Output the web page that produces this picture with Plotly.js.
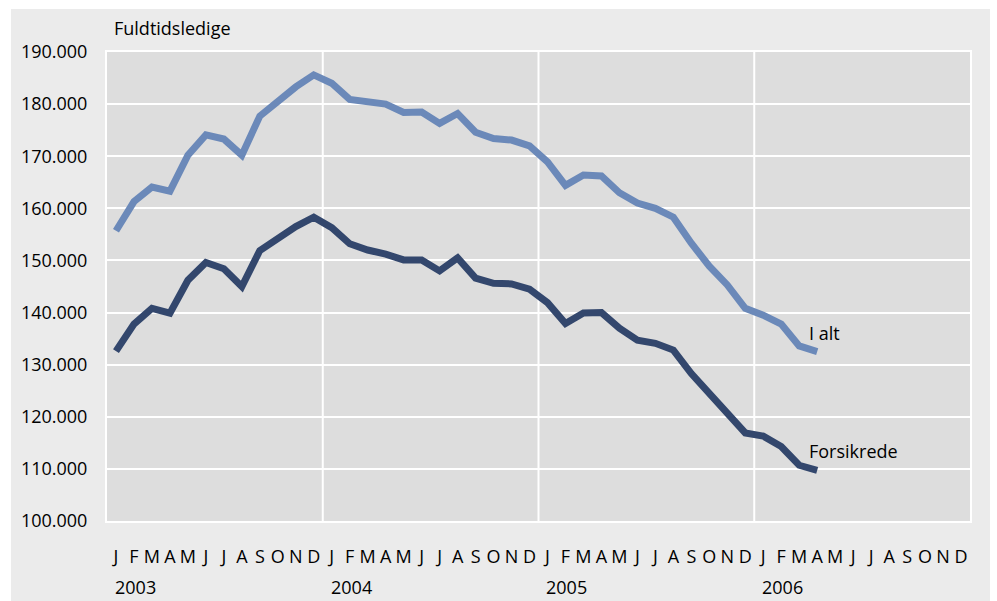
<!DOCTYPE html>
<html>
<head>
<meta charset="utf-8">
<script src="https://cdn.plot.ly/plotly-3.0.1.min.js"></script>
<style>
html,body{margin:0;padding:0;background:#ffffff;}
#chart{position:absolute;left:11px;top:9px;width:979px;height:592px;}
</style>
</head>
<body>
<div id="chart"></div>
<script>
// Month tick labels (Jan 2003 - Dec 2006)
const monthLetters = ["J","F","M","A","M","J","J","A","S","O","N","D"];
const years = ["2003","2004","2005","2006"];

// I alt (total full-time unemployed), Jan 2003 - Apr 2006
const iAlt = [155700,161300,164100,163300,170200,174100,173300,170200,177700,180500,183300,185600,
              184000,180900,180400,180000,178400,178500,176300,178200,174600,173400,173100,172000,
              168900,164400,166400,166200,163000,161000,160000,158300,153300,148900,145300,140800,
              139500,137800,133600,132500];

// Forsikrede (insured), Jan 2003 - Apr 2006
const forsikrede = [132600,137800,140800,139900,146200,149600,148400,145000,151900,154100,156500,158300,
                    156300,153200,152000,151200,150100,150100,148000,150500,146600,145600,145500,144500,
                    141900,137900,139900,140000,137000,134700,134100,132800,128300,124500,120800,116900,
                    116300,114300,110700,109700];

const seriesNames = ["I alt","Forsikrede"];
const yTitle = "Fuldtidsledige";

const FONT = "Open Sans";
const FS = 18;
const TXT = "#000000";

const nMonths = years.length * monthLetters.length;
const tickvals = [], ticktext = [];
for (let i = 0; i < nMonths; i++) { tickvals.push(i); ticktext.push(monthLetters[i % 12]); }
const xi = arr => arr.map((_, i) => i);

const traces = [
  {x: xi(iAlt), y: iAlt, type: "scatter", mode: "lines", name: seriesNames[0],
   line: {color: "#6b89b9", width: 7}, hoverinfo: "x+y"},
  {x: xi(forsikrede), y: forsikrede, type: "scatter", mode: "lines", name: seriesNames[1],
   line: {color: "#33476d", width: 7}, hoverinfo: "x+y"}
];

const shapes = [];
for (let k = 1; k < years.length; k++) {
  shapes.push({type: "line", xref: "x", yref: "paper", x0: 12*k - 0.5, x1: 12*k - 0.5, y0: 0, y1: 1,
               line: {color: "#ffffff", width: 2}, layer: "below"});
}

const annotations = [
  {xref: "paper", yref: "paper", x: 0, y: 1, xanchor: "left", yanchor: "middle", xshift: 5, yshift: 24,
   text: yTitle, showarrow: false, font: {family: FONT, size: FS, color: TXT}},
  {xref: "x", yref: "y", x: iAlt.length - 1, y: iAlt[iAlt.length - 1], xanchor: "left", yanchor: "middle",
   xshift: -10, yshift: 19, text: seriesNames[0], showarrow: false, font: {family: FONT, size: FS, color: TXT}},
  {xref: "x", yref: "y", x: forsikrede.length - 1, y: forsikrede[forsikrede.length - 1], xanchor: "left", yanchor: "middle",
   xshift: -10, yshift: 19, text: seriesNames[1], showarrow: false, font: {family: FONT, size: FS, color: TXT}}
];
years.forEach((yr, k) => {
  annotations.push({xref: "x", yref: "paper", x: 12*k, y: 0, xanchor: "left", yanchor: "middle",
    xshift: -3, yshift: -66, text: yr, showarrow: false, font: {family: FONT, size: FS, color: TXT}});
});

const layout = {
  width: 979, height: 592,
  margin: {l: 96, r: 20, t: 43, b: 80, pad: 0},
  paper_bgcolor: "#ebebeb",
  plot_bgcolor: "#dddddd",
  separators: ",.",
  showlegend: false,
  xaxis: {
    range: [-0.5, nMonths - 0.5], tickmode: "array", tickvals: tickvals, ticktext: ticktext,
    showgrid: false, zeroline: false, showline: true, linecolor: "#ffffff", linewidth: 2, mirror: true,
    ticks: "", ticklabelstandoff: 18, tickangle: 0,
    tickfont: {family: FONT, size: FS, color: TXT}, fixedrange: true
  },
  yaxis: {
    range: [100000, 190000], dtick: 10000, tick0: 100000, tickformat: ",d",
    showgrid: true, gridcolor: "#ffffff", gridwidth: 2, zeroline: false,
    showline: true, linecolor: "#ffffff", linewidth: 2, mirror: true,
    ticks: "", ticklabelstandoff: 14,
    tickfont: {family: FONT, size: FS, color: TXT}, fixedrange: true
  },
  shapes: shapes,
  annotations: annotations
};

Plotly.newPlot("chart", traces, layout, {displayModeBar: false, staticPlot: true});
</script>
</body>
</html>
